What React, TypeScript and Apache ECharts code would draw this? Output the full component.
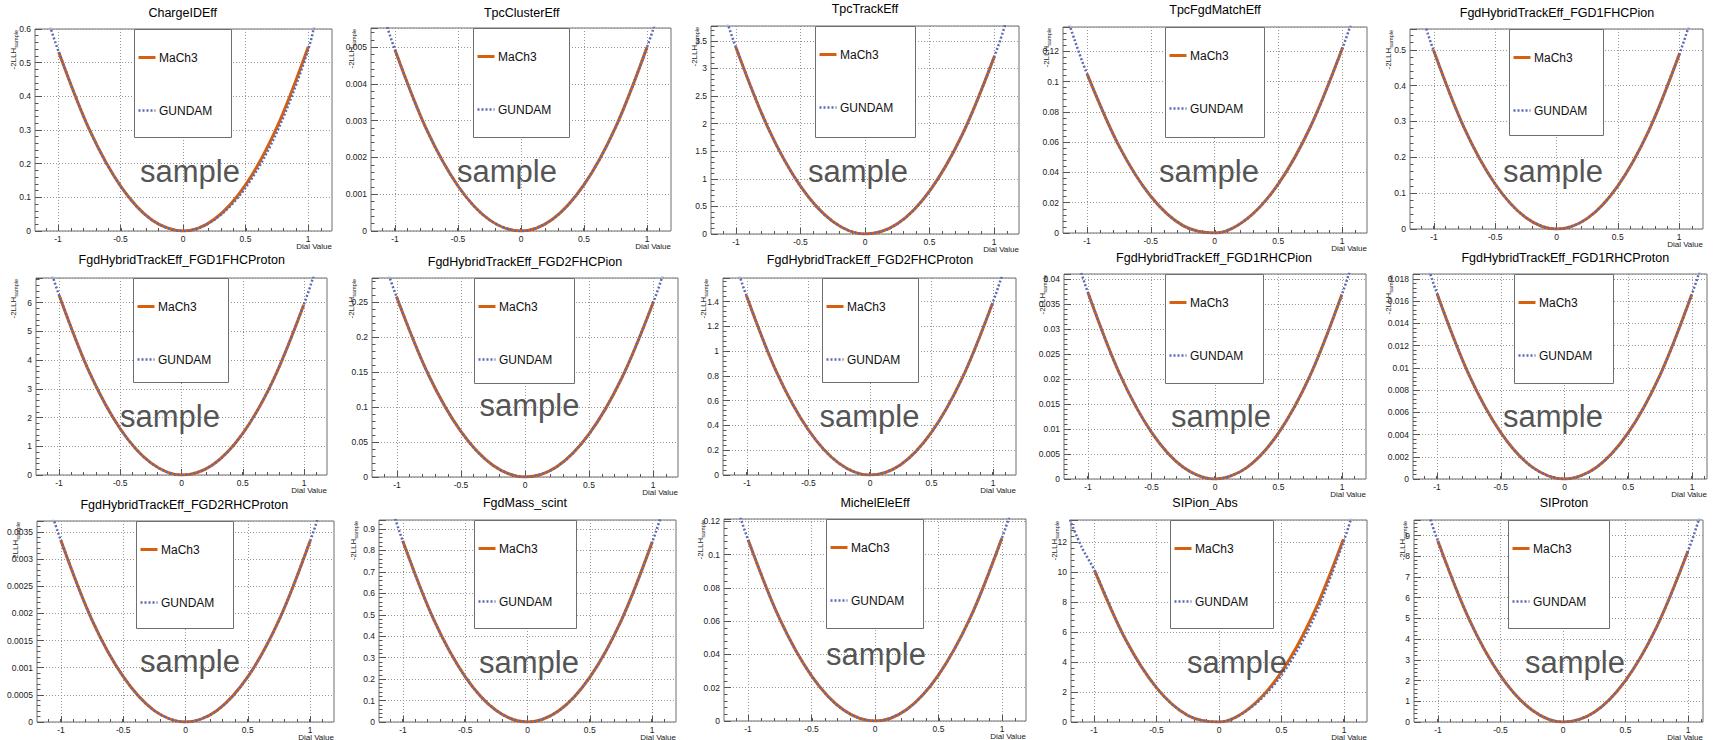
import React, { useEffect, useRef } from "react";
import * as echarts from "echarts";

// ---------------- data ----------------
const MACH3_X = [-1, -0.75, -0.5, -0.25, 0, 0.25, 0.5, 0.75, 1];
const GUNDAM_X = [-1.2, -1.1, -1, -0.75, -0.5, -0.25, 0, 0.25, 0.5, 0.75, 1, 1.1, 1.2];

const TITLES = [
  "ChargeIDEff",
  "TpcClusterEff",
  "TpcTrackEff",
  "TpcFgdMatchEff",
  "FgdHybridTrackEff_FGD1FHCPion",
  "FgdHybridTrackEff_FGD1FHCProton",
  "FgdHybridTrackEff_FGD2FHCPion",
  "FgdHybridTrackEff_FGD2FHCProton",
  "FgdHybridTrackEff_FGD1RHCPion",
  "FgdHybridTrackEff_FGD1RHCProton",
  "FgdHybridTrackEff_FGD2RHCProton",
  "FgdMass_scint",
  "MichelEleEff",
  "SIPion_Abs",
  "SIProton",
];
const Y_MAX = [0.6, 0.00552, 3.77, 0.136, 0.558, 6.86, 0.285, 1.59, 0.041, 0.01845, 0.0037, 0.942, 0.1215, 13.48, 9.75];
const Y_STEP = [0.1, 0.001, 0.5, 0.02, 0.1, 1, 0.05, 0.2, 0.005, 0.002, 0.0005, 0.1, 0.02, 2, 1];
const X_TICKS_MAJOR = 0.5;
const X_TICKS_MINOR = 0.1;
const SERIES_NAMES = ["MaCh3", "GUNDAM"];
const X_AXIS_NAME = "Dial Value";
const Y_AXIS_NAME = "-2LLH";
const Y_AXIS_SUB = "sample";
const WATERMARK = "sample";

const mach3ChargeIDEff = [0.532, 0.2978, 0.1311, 0.0318, 0, 0.0356, 0.1386, 0.3091, 0.547];
const gundamChargeIDEff = [0.768, 0.6445, 0.532, 0.2978, 0.1311, 0.0318, 0, 0.034, 0.13, 0.295, 0.54, 0.7, 0.86];
const mach3TpcClusterEff = [0.00493, 0.002767, 0.001224, 0.000302, 0, 0.000319, 0.001259, 0.002819, 0.005];
const gundamTpcClusterEff = [0.00711, 0.00597, 0.00493, 0.002767, 0.001224, 0.000302, 0, 0.000319, 0.001259, 0.002819, 0.005, 0.00605, 0.00719];
const mach3TpcTrackEff = [3.4, 1.929, 0.8725, 0.2294, 0, 0.1844, 0.7825, 1.794, 3.22];
const gundamTpcTrackEff = [4.87, 4.1, 3.4, 1.929, 0.8725, 0.2294, 0, 0.1844, 0.7825, 1.794, 3.22, 3.91, 4.66];
const mach3TpcFgdMatchEff = [0.1047, 0.05722, 0.02394, 0.00486, 0, 0.00934, 0.03289, 0.07064, 0.1226];
const gundamTpcFgdMatchEff = [0.1529, 0.1277, 0.1047, 0.05722, 0.02394, 0.00486, 0, 0.00934, 0.03289, 0.07064, 0.1226, 0.1474, 0.1744];
const mach3Fgd1FhcPion = [0.5, 0.2822, 0.1263, 0.0322, 0, 0.0297, 0.1213, 0.2747, 0.49];
const gundamFgd1FhcPion = [0.719, 0.6045, 0.5, 0.2822, 0.1263, 0.0322, 0, 0.0297, 0.1213, 0.2747, 0.49, 0.5935, 0.7068];
const mach3Fgd1FhcProton = [6.25, 3.546, 1.6025, 0.4206, 0, 0.3406, 1.4425, 3.3056, 5.93];
const gundamFgd1FhcProton = [8.96, 7.545, 6.25, 3.546, 1.6025, 0.4206, 0, 0.3406, 1.4425, 3.3056, 5.93, 7.193, 8.578];
const mach3Fgd2FhcPion = [0.2586, 0.1461, 0.0656, 0.0168, 0, 0.015, 0.062, 0.1407, 0.2514];
const gundamFgd2FhcPion = [0.3715, 0.3126, 0.2586, 0.1461, 0.0656, 0.0168, 0, 0.015, 0.062, 0.1407, 0.2514, 0.3046, 0.3629];
const mach3Fgd2FhcProton = [1.448, 0.82, 0.3694, 0.0961, 0, 0.0813, 0.3399, 0.7758, 1.389];
const gundamFgd2FhcProton = [2.078, 1.749, 1.448, 0.82, 0.3694, 0.0961, 0, 0.0813, 0.3399, 0.7758, 1.389, 1.684, 2.007];
const mach3Fgd1RhcPion = [0.0372, 0.02095, 0.00934, 0.00235, 0, 0.00228, 0.00919, 0.02073, 0.0369];
const gundamFgd1RhcPion = [0.0535, 0.045, 0.0372, 0.02095, 0.00934, 0.00235, 0, 0.00228, 0.00919, 0.02073, 0.0369, 0.0447, 0.0532];
const mach3Fgd1RhcProton = [0.01665, 0.00937, 0.00417, 0.001045, 0, 0.001033, 0.004144, 0.009333, 0.0166];
const gundamFgd1RhcProton = [0.02394, 0.02015, 0.01665, 0.00937, 0.00417, 0.001045, 0, 0.001033, 0.004144, 0.009333, 0.0166, 0.0201, 0.0239];
const mach3Fgd2RhcProton = [0.00335, 0.001882, 0.000839, 0.00021, 0, 0.000208, 0.000834, 0.001878, 0.00334];
const gundamFgd2RhcProton = [0.00482, 0.00405, 0.00335, 0.001882, 0.000839, 0.00021, 0, 0.000208, 0.000834, 0.001878, 0.00334, 0.00404, 0.00481];
const mach3FgdMassScint = [0.845, 0.4758, 0.2119, 0.0533, 0, 0.0521, 0.2094, 0.472, 0.84];
const gundamFgdMassScint = [1.216, 1.022, 0.845, 0.4758, 0.2119, 0.0533, 0, 0.0521, 0.2094, 0.472, 0.84, 1.0167, 1.2102];
const mach3MichelEleEff = [0.109, 0.06122, 0.02713, 0.00672, 0, 0.00697, 0.02763, 0.06197, 0.11];
const gundamMichelEleEff = [0.1571, 0.1319, 0.109, 0.06122, 0.02713, 0.00672, 0, 0.00697, 0.02763, 0.06197, 0.11, 0.133, 0.1583];
const mach3SIPionAbs = [10.1, 5.484, 2.263, 0.434, 0, 0.959, 3.313, 7.059, 12.2];
const gundamSIPionAbs = [13.5, 11.6, 10.1, 5.484, 2.263, 0.434, 0, 0.92, 3.1, 6.7, 12.0, 14.6, 17.2];
const mach3SIProton = [8.75, 4.969, 2.25, 0.594, 0, 0.469, 2.0, 4.594, 8.25];
const gundamSIProton = [12.54, 10.56, 8.75, 4.969, 2.25, 0.594, 0, 0.469, 2.0, 4.594, 8.25, 10.01, 11.94];

const MACH3 = [
  mach3ChargeIDEff, mach3TpcClusterEff, mach3TpcTrackEff, mach3TpcFgdMatchEff, mach3Fgd1FhcPion,
  mach3Fgd1FhcProton, mach3Fgd2FhcPion, mach3Fgd2FhcProton, mach3Fgd1RhcPion, mach3Fgd1RhcProton,
  mach3Fgd2RhcProton, mach3FgdMassScint, mach3MichelEleEff, mach3SIPionAbs, mach3SIProton,
];
const GUNDAM = [
  gundamChargeIDEff, gundamTpcClusterEff, gundamTpcTrackEff, gundamTpcFgdMatchEff, gundamFgd1FhcPion,
  gundamFgd1FhcProton, gundamFgd2FhcPion, gundamFgd2FhcProton, gundamFgd1RhcPion, gundamFgd1RhcProton,
  gundamFgd2RhcProton, gundamFgdMassScint, gundamMichelEleEff, gundamSIPionAbs, gundamSIProton,
];

// ---------------- layout (pixels) ----------------
// c: pixel of x=0, u: pixels per unit of x, top/bottom of frame
type Lay = {
  c: number; u: number; top: number; bottom: number; xmin?: number; xmax?: number;
  legend: number[]; sample: number[]; title: number[]; nameX: number;
};
const LAYOUT: Lay[] = [
  { c: 183.3, u: 125, top: 29, bottom: 231, legend: [134, 29, 231, 137], sample: [190, 173], title: [182.7, 13.3], nameX: 13 },
  { c: 520.8, u: 125.8, top: 28, bottom: 231, legend: [473, 28, 569, 137], sample: [507, 173], title: [521.7, 13], nameX: 351 },
  { c: 865, u: 129.3, top: 26, bottom: 234, legend: [815, 26, 915, 137], sample: [858, 173], title: [865, 8.5], nameX: 694 },
  { c: 1214.8, u: 127.5, top: 27, bottom: 233, legend: [1165, 27, 1264, 137], sample: [1209, 173], title: [1215, 10], nameX: 1046 },
  { c: 1556.5, u: 122.8, top: 29, bottom: 229, legend: [1509, 29, 1603, 135], sample: [1553, 173], title: [1557, 13.3], nameX: 1388 },
  { c: 181.5, u: 122.5, top: 278, bottom: 475, legend: [133, 278, 228, 382], sample: [170, 418], title: [181.7, 260], nameX: 13 },
  { c: 525, u: 128.3, top: 278, bottom: 477, legend: [474, 278, 574, 383], sample: [529.5, 407], title: [525, 262], nameX: 351 },
  { c: 869.7, u: 123, top: 278, bottom: 475, legend: [822, 278, 918, 382], sample: [869.5, 418], title: [870, 260], nameX: 703 },
  { c: 1214.7, u: 127, top: 274, bottom: 479, legend: [1165, 274, 1263, 383], sample: [1221, 418], title: [1214, 257.7], nameX: 1042 },
  { c: 1564.3, u: 127.3, top: 274, bottom: 479, xmax: 1.12, legend: [1514, 274, 1613, 383], sample: [1553, 418], title: [1565.3, 257.7], nameX: 1388 },
  { c: 185.3, u: 124.7, top: 521, bottom: 722, legend: [136, 521, 233, 628], sample: [190, 663], title: [184.3, 505], nameX: 15 },
  { c: 527.4, u: 124.6, top: 520, bottom: 722, legend: [474, 520, 576, 628], sample: [529, 664], title: [525, 503], nameX: 353 },
  { c: 875.3, u: 127, top: 519, bottom: 721, legend: [826, 519, 923, 628], sample: [876, 656], title: [875, 503.3], nameX: 700 },
  { c: 1218.9, u: 124.6, top: 520, bottom: 722, legend: [1170, 520, 1273, 628], sample: [1237, 664], title: [1205, 503], nameX: 1054 },
  { c: 1563, u: 125.2, top: 520, bottom: 722, xmax: 1.12, legend: [1508, 520, 1609, 628], sample: [1575, 664], title: [1564, 503], nameX: 1402 },
];

// ---------------- styles ----------------
const FONT = "'Liberation Sans', Arial, Helvetica, sans-serif";
const FRAME = "#6e6e6e";
const TICK = "#555555";
const LABEL = "#1a1a1a";
const GRIDC = "#959595";
const ORANGE = "#d6600e";
const BLUE = "#5c6ab5";
const SAMPLE_C = "#555555";

function fmtStep(step: number) {
  return (v: number) => {
    const k = v / step;
    if (Math.abs(k - Math.round(k)) > 1e-6) return "";
    return String(parseFloat(Number(v).toPrecision(8)));
  };
}

function buildOption() {
  const grid: any[] = [];
  const xAxis: any[] = [];
  const yAxis: any[] = [];
  const series: any[] = [];
  const graphic: any[] = [];

  TITLES.forEach((title, p) => {
    const L = LAYOUT[p];
    const xmin = L.xmin ?? -1.19;
    const xmax = L.xmax ?? 1.19;
    const left = Math.round(L.c + xmin * L.u);
    const right = Math.round(L.c + xmax * L.u);
    const top = Math.round(L.top);
    const h = Math.round(L.bottom - L.top);
    const g0 = grid.length;
    grid.push({
      left, top, width: right - left, height: h, show: true, borderColor: FRAME, borderWidth: 1,
      backgroundColor: "transparent", containLabel: false, outerBoundsMode: "none",
    });
    const mLeft = Math.round(L.c - 1.1 * L.u);
    const mRight = Math.round(L.c + 1.1 * L.u);
    grid.push({ left: mLeft, top, width: mRight - mLeft, height: h, show: false, containLabel: false, outerBoundsMode: "none" });
    const jLeft = Math.round(L.c - L.u);
    const jRight = Math.round(L.c + L.u);
    grid.push({ left: jLeft, top, width: jRight - jLeft, height: h, show: false, containLabel: false, outerBoundsMode: "none" });

    const xi = xAxis.length;
    xAxis.push({ type: "value", gridIndex: g0, min: xmin, max: xmax, show: false });
    xAxis.push({
      type: "value", gridIndex: g0 + 1, min: -1.1, max: 1.1, interval: X_TICKS_MINOR,
      axisLine: { show: false, onZero: false },
      axisTick: { show: true, inside: true, length: 3, lineStyle: { color: TICK, width: 1 } },
      axisLabel: { show: false }, splitLine: { show: false },
    });
    xAxis.push({
      type: "value", gridIndex: g0 + 2, min: -1, max: 1, interval: X_TICKS_MAJOR,
      axisLine: { show: false, onZero: false },
      axisTick: { show: true, inside: true, length: 6, lineStyle: { color: TICK, width: 1 } },
      axisLabel: { show: true, fontSize: 8.5, margin: 3, color: LABEL, fontFamily: FONT, formatter: fmtStep(X_TICKS_MAJOR) },
      splitLine: { show: true, lineStyle: { color: GRIDC, type: [1, 2], width: 1 } },
    });

    const yi = yAxis.length;
    yAxis.push({
      type: "value", gridIndex: g0, min: 0, max: Y_MAX[p], interval: Y_STEP[p], position: "left",
      axisLine: { show: false, onZero: false },
      axisTick: { show: true, inside: true, length: 7, lineStyle: { color: TICK, width: 1 } },
      axisLabel: { show: true, fontSize: 8.5, margin: 4, color: LABEL, fontFamily: FONT, formatter: fmtStep(Y_STEP[p]) },
      splitLine: { show: true, lineStyle: { color: GRIDC, type: [1, 2], width: 1 } },
    });
    yAxis.push({
      type: "value", gridIndex: g0, min: 0, max: Y_MAX[p], interval: Y_STEP[p] / 5, position: "left",
      axisLine: { show: false, onZero: false },
      axisTick: { show: true, inside: true, length: 3.5, lineStyle: { color: TICK, width: 1 } },
      axisLabel: { show: false }, splitLine: { show: false },
    });
    yAxis.push({ type: "value", gridIndex: g0 + 1, min: 0, max: 1, show: false });
    yAxis.push({ type: "value", gridIndex: g0 + 2, min: 0, max: 1, show: false });

    series.push({
      type: "line", name: SERIES_NAMES[0], xAxisIndex: xi, yAxisIndex: yi,
      data: MACH3_X.map((x, i) => [x, MACH3[p][i]]),
      showSymbol: false, symbol: "none", smooth: 0.33, clip: true, silent: true, z: 3,
      lineStyle: { color: ORANGE, width: 3, type: "solid" },
    });
    series.push({
      type: "line", name: SERIES_NAMES[1], xAxisIndex: xi, yAxisIndex: yi,
      data: GUNDAM_X.map((x, i) => [x, GUNDAM[p][i]]),
      showSymbol: false, symbol: "none", smooth: 0.33, clip: true, silent: true, z: 4,
      lineStyle: { color: BLUE, width: 2.5, type: [2, 2] },
    });

    // title
    graphic.push({
      type: "text", x: L.title[0], y: L.title[1], z: 100,
      style: { text: title, fontSize: 12.5, fontFamily: FONT, fill: "#000", align: "center", verticalAlign: "middle", textAlign: "center", textVerticalAlign: "middle" },
    });
    // x axis name
    graphic.push({
      type: "text", x: right, y: L.bottom + 15, z: 100,
      style: { text: X_AXIS_NAME, fontSize: 8, fontFamily: FONT, fill: LABEL, align: "right", verticalAlign: "middle", textAlign: "right", textVerticalAlign: "middle" },
    });
    // y axis name (rotated, with subscript)
    graphic.push({
      type: "text", x: L.nameX, y: top + 1, rotation: Math.PI / 2, z: 100,
      style: {
        text: `{a|${Y_AXIS_NAME}}{b|${Y_AXIS_SUB}}`,
        rich: {
          a: { fontSize: 8, fontFamily: FONT, fill: LABEL, lineHeight: 12 },
          b: { fontSize: 5.5, fontFamily: FONT, fill: LABEL, lineHeight: 6, verticalAlign: "bottom" },
        },
        align: "right", verticalAlign: "middle", textAlign: "right", textVerticalAlign: "middle",
      },
    });
    // legend box
    const [lx0, ly0, lx1, ly1] = L.legend;
    const bx = Math.round(lx0) + 0.5;
    const by = Math.round(ly0) + 0.5;
    graphic.push({
      type: "rect", z: 90,
      shape: { x: bx, y: by, width: Math.round(lx1 - lx0), height: Math.round(ly1 - ly0) },
      style: { fill: "#ffffff", stroke: FRAME, lineWidth: 1 },
    });
    graphic.push({
      type: "line", z: 91,
      shape: { x1: bx + 4, y1: by + 28, x2: bx + 21, y2: by + 28 },
      style: { stroke: ORANGE, lineWidth: 3 },
    });
    graphic.push({
      type: "line", z: 91,
      shape: { x1: bx + 4, y1: by + 81, x2: bx + 21, y2: by + 81 },
      style: { stroke: BLUE, lineWidth: 2.5, lineDash: [2, 2] },
    });
    graphic.push({
      type: "text", x: bx + 24.5, y: by + 28, z: 91,
      style: { text: SERIES_NAMES[0], fontSize: 12, fontFamily: FONT, fill: "#111", align: "left", verticalAlign: "middle", textAlign: "left", textVerticalAlign: "middle" },
    });
    graphic.push({
      type: "text", x: bx + 24.5, y: by + 81, z: 91,
      style: { text: SERIES_NAMES[1], fontSize: 12, fontFamily: FONT, fill: "#111", align: "left", verticalAlign: "middle", textAlign: "left", textVerticalAlign: "middle" },
    });
    // watermark
    graphic.push({
      type: "text", x: L.sample[0], y: L.sample[1] - 2, z: 80,
      style: { text: WATERMARK, fontSize: 31, fontFamily: FONT, fill: SAMPLE_C, align: "center", verticalAlign: "middle", textAlign: "center", textVerticalAlign: "middle" },
    });
  });

  return {
    animation: false,
    backgroundColor: "#ffffff",
    textStyle: { fontFamily: FONT },
    grid, xAxis, yAxis, series,
    graphic: { elements: graphic },
  };
}

export default function App() {
  const ref = useRef<HTMLDivElement>(null);
  useEffect(() => {
    document.body.style.margin = "0";
    const chart = echarts.init(ref.current as HTMLDivElement, null, { renderer: "svg" });
    chart.setOption(buildOption() as any);
    return () => chart.dispose();
  }, []);
  return (
    <div
      ref={ref}
      style={{ position: "absolute", left: 0, top: 0, width: 1721, height: 740, background: "#fff" }}
    />
  );
}
